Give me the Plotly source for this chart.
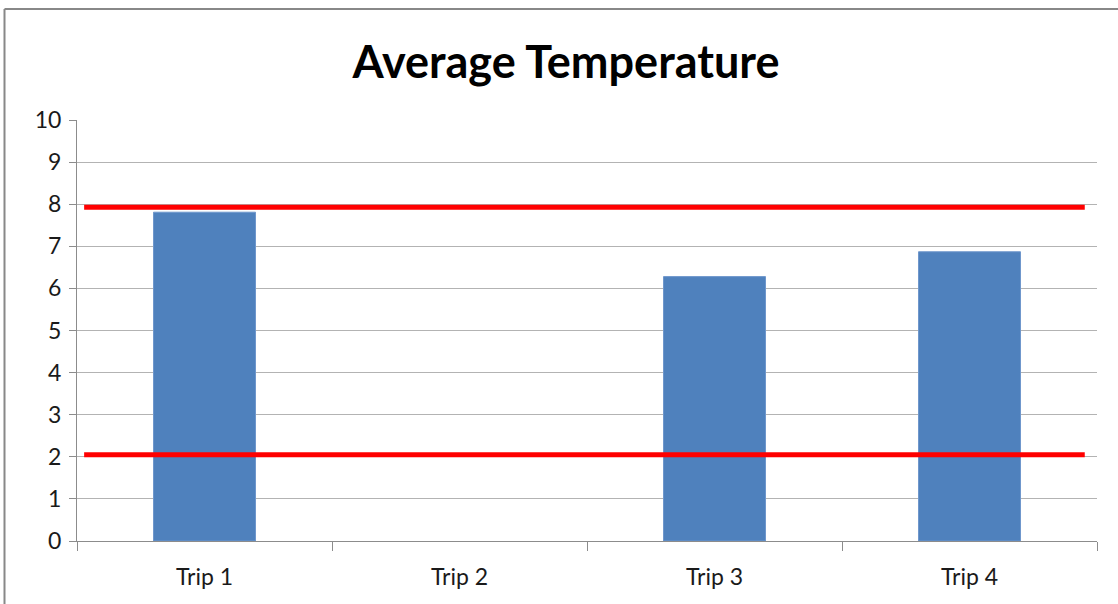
import plotly.graph_objects as go

categories = ["Trip 1", "Trip 2", "Trip 3", "Trip 4"]
avg_temp = [7.81, None, 6.28, 6.87]
upper_limit = 7.93
lower_limit = 2.05
y_ticks = list(range(0, 11))

W, H = 1118, 604
L, R, T, B = 77, 21, 120, 63
pw, ph = W - L - R, H - T - B

def px_x(px):
    return (px - L) / pw

def px_y(py):
    return (H - B - py) / ph

fig = go.Figure()
fig.add_trace(go.Bar(
    x=categories, y=avg_temp, width=0.4,
    marker=dict(color="#4F81BD", line=dict(color="#6F97CC", width=1)),
    showlegend=False,
))

for lim in (upper_limit, lower_limit):
    fig.add_shape(type="line", xref="x domain", yref="y",
                  x0=0.007, x1=0.988, y0=lim, y1=lim,
                  line=dict(color="#FF0000", width=5), layer="above")

# chart-area border (top and left edges visible)
fig.add_shape(type="line", xref="paper", yref="paper",
              x0=px_x(4.5), x1=px_x(4.5), y0=px_y(606), y1=px_y(9),
              line=dict(color="#888888", width=2))
fig.add_shape(type="line", xref="paper", yref="paper",
              x0=px_x(4.5), x1=px_x(1120), y0=px_y(9), y1=px_y(9),
              line=dict(color="#888888", width=2))

font_family = "Lato, Open Sans, Liberation Sans, sans-serif"

fig.update_layout(
    width=W, height=H,
    margin=dict(l=L, r=R, t=T, b=B),
    paper_bgcolor="white", plot_bgcolor="white",
    title=dict(text="<b>Average Temperature</b>", x=566 / W, xanchor="center",
               y=1 - 62 / H, yanchor="middle",
               font=dict(family=font_family, size=45, color="#000000")),
    font=dict(family=font_family, size=23, color="#1A1A1A"),
    bargap=0.6,
)
fig.update_xaxes(
    showgrid=False, showline=True, linecolor="#8C8C8C", linewidth=1,
    ticks="outside", ticklen=9, tickcolor="#8C8C8C", tickson="boundaries",
    tickfont=dict(size=23, color="#1A1A1A"), ticklabelstandoff=15,
)
fig.update_yaxes(
    range=[0, 10], tickvals=y_ticks, showgrid=True, gridcolor="#B3B3B3", gridwidth=1,
    showline=True, linecolor="#8C8C8C", linewidth=1,
    ticks="outside", ticklen=7, tickcolor="#8C8C8C",
    tickfont=dict(size=23, color="#1A1A1A"), zeroline=False, ticklabelstandoff=3,
)

fig.write_html("out.html", config={"displayModeBar": False},
               post_script="document.body.style.margin='0';")
